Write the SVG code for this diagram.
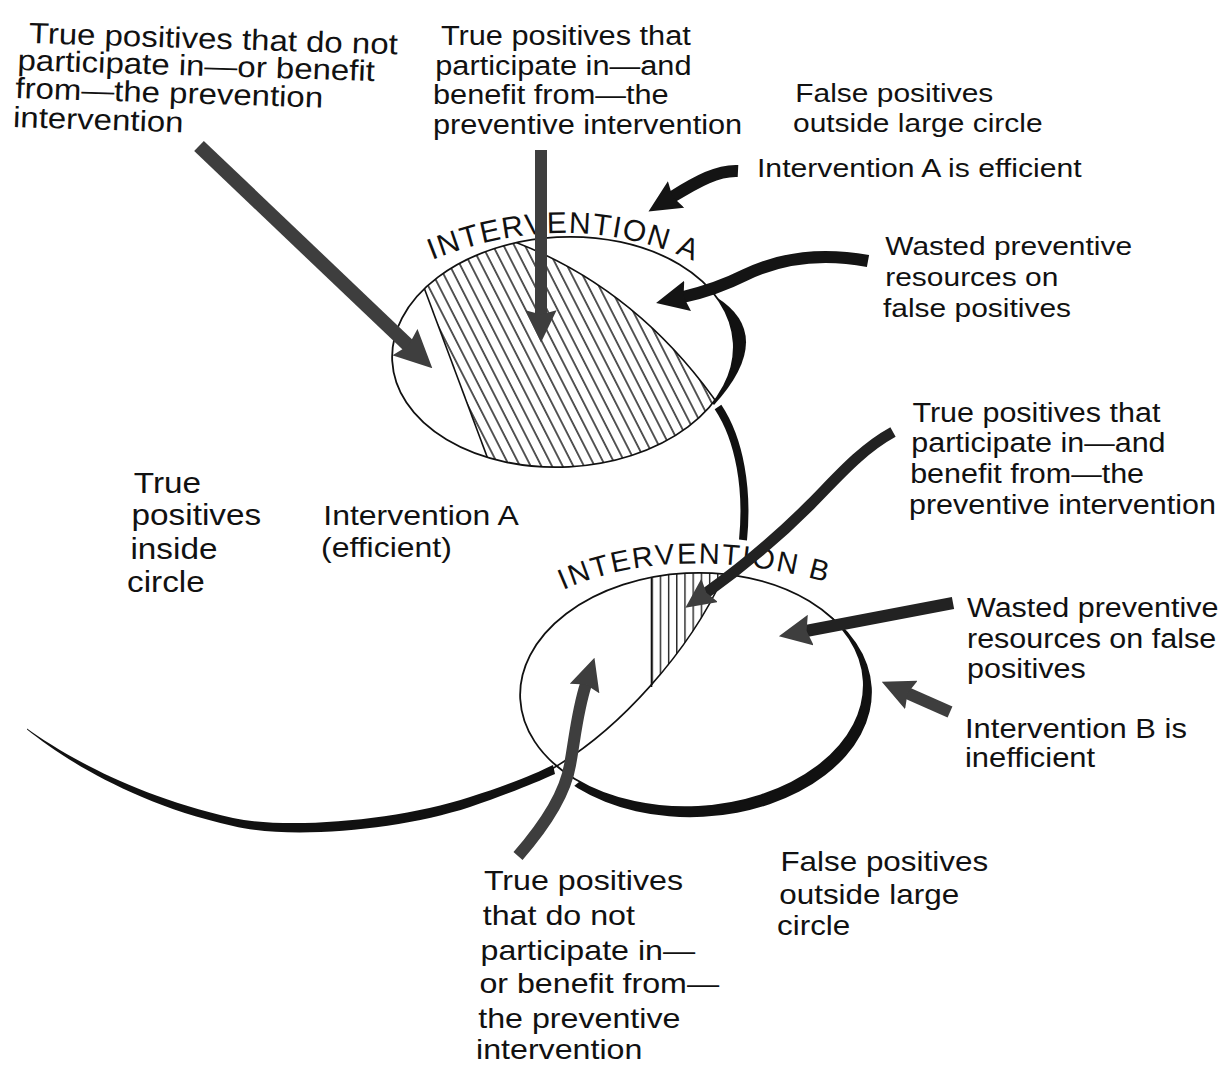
<svg xmlns="http://www.w3.org/2000/svg" width="1225" height="1068" viewBox="0 0 1225 1068">
<defs>
<style>
text{font-family:"Liberation Sans",Arial,Helvetica,sans-serif;fill:#111;}
.arcA{font-size:30px;letter-spacing:1.5px}
.arcB{font-size:29px;letter-spacing:2px}
.fillw{fill:#fff;stroke:none}
.outline{fill:none;stroke:#111;stroke-width:1.8}
.thin{fill:none;stroke:#111;stroke-width:1.6}
.thick{fill:none;stroke:#111;stroke-width:8}
.shadow{fill:#111;stroke:none}
.ag{fill:none;stroke:#3e3e3e;marker-end:url(#hg)}
.ab{fill:none;stroke:#141414;marker-end:url(#hb)}
.am{fill:none;stroke:#222;marker-end:url(#hg)}
</style>
<marker id="hg" viewBox="0 -1.3 2.7 2.6" markerWidth="2.7" markerHeight="2.6" refX="0.4" refY="0" orient="auto" markerUnits="strokeWidth"><path d="M0,-1.3 L2.7,0 L0,1.3 L0.35,0 Z" fill="#3e3e3e"/></marker>
<marker id="hb" viewBox="0 -1.3 2.7 2.6" markerWidth="2.7" markerHeight="2.6" refX="0.4" refY="0" orient="auto" markerUnits="strokeWidth"><path d="M0,-1.3 L2.7,0 L0,1.3 L0.35,0 Z" fill="#141414"/></marker>
<pattern id="hatchA" width="9.5" height="20" patternUnits="userSpaceOnUse" patternTransform="rotate(-27)"><line x1="4.75" y1="-1" x2="4.75" y2="21" stroke="#111" stroke-width="1.4"/></pattern>
<pattern id="hatchB" x="651.5" y="0" width="8.2" height="20" patternUnits="userSpaceOnUse"><line x1="0.7" y1="-1" x2="0.7" y2="21" stroke="#111" stroke-width="1.3"/></pattern>
<clipPath id="clipA"><ellipse cx="563" cy="352" rx="171" ry="115" transform="rotate(-3 563 352)"/></clipPath>
<clipPath id="clipAh"><path d="M413,258 L495,478 L760,478 L722,410 Q640,290 515,242 L510,215 L413,215 Z"/></clipPath>
<clipPath id="clipB"><ellipse cx="692" cy="690" rx="172" ry="117" transform="rotate(-3 692 690)"/></clipPath>
<clipPath id="clipBh"><path d="M651.5,560 L651.5,686 C680.75,651.75 706.5,613.5 723,577 L760,560 Z"/></clipPath>
<clipPath id="clipBs"><path d="M466,874 L1031,414 L1225,414 L1225,1068 L466,1068 Z"/></clipPath>
<path id="arcA" d="M432,260 Q572,204 700,264" fill="none"/>
<path id="arcB" d="M563,590 Q675,540 834,584" fill="none"/>
</defs>
<rect x="0" y="0" width="1225" height="1068" fill="#fff"/>

<g id="intervention-a">
<path class="shadow" d="M716,297 Q777,335 714,405 L700,390 L700,310 Z"/>
<ellipse class="fillw" cx="563" cy="352" rx="171" ry="115" transform="rotate(-3 563 352)"/>
<g clip-path="url(#clipA)">
<g clip-path="url(#clipAh)"><rect x="380" y="220" width="390" height="260" fill="url(#hatchA)"/></g>
<line class="thin" x1="413" y1="258" x2="495" y2="478"/>
<path class="thin" d="M722,410 Q640,290 515,242"/>
</g>
<ellipse class="outline" cx="563" cy="352" rx="171" ry="115" transform="rotate(-3 563 352)"/>
<text class="arcA"><textPath href="#arcA">INTERVENTION A</textPath></text>
</g>

<g id="intervention-b">
<g clip-path="url(#clipBs)"><ellipse class="shadow" cx="697" cy="697" rx="175" ry="120" transform="rotate(-3 697 697)"/></g>
<ellipse class="fillw" cx="692" cy="690" rx="172" ry="117" transform="rotate(-3 692 690)"/>
<g clip-path="url(#clipB)">
<g clip-path="url(#clipBh)"><rect x="640" y="560" width="100" height="140" fill="url(#hatchB)"/></g>
<line class="thin" x1="651.5" y1="570" x2="651.5" y2="687"/>
</g>
<path class="thin" d="M550,770 C620,730 690,650 723,577"/>
<ellipse class="outline" cx="692" cy="690" rx="172" ry="117" transform="rotate(-3 692 690)"/>
<text class="arcB"><textPath href="#arcB">INTERVENTION B</textPath></text>
</g>

<g id="large-circle">
<path class="shadow" d="M27,728.5 C60,752 130,795 233,818 C290,830 400,820 470,797 C505,786 535,774 553,765 L555,774 C535,783 505,795 470,807 C400,830 290,840 233,826 C130,803 60,756 27,729.5 Z"/>
<path class="thick" d="M718,407 C740,440 748,490 743,540"/>
</g>

<g id="label-tp-not-top" transform="matrix(1.13 0 0 1 -1.95 0)" font-size="29.2">
<text x="27" y="43" transform="rotate(2 27 43)">True positives that do not</text>
<text x="17" y="70" transform="rotate(2 17 70)">participate in—or benefit</text>
<text x="15" y="98" transform="rotate(2 15 98)">from—the prevention</text>
<text x="13" y="127" transform="rotate(2 13 127)">intervention</text>
</g>
<g id="label-tp-benefit-top" transform="matrix(1.13 0 0 1 -56.29 0)" font-size="27.2">
<text x="440" y="45">True positives that</text>
<text x="435" y="75">participate in—and</text>
<text x="433" y="104">benefit from—the</text>
<text x="433" y="134">preventive intervention</text>
</g>
<g id="label-fp-top" transform="matrix(1.13 0 0 1 -103.09 0)" font-size="26.5">
<text x="795" y="102">False positives</text>
<text x="793" y="132">outside large circle</text>
</g>
<g id="label-a-efficient" transform="matrix(1.13 0 0 1 -98.41 0)" font-size="26.7">
<text x="757" y="177">Intervention A is efficient</text>
</g>
<g id="label-wasted-a" transform="matrix(1.13 0 0 1 -114.79 0)" font-size="26.5">
<text x="885" y="255">Wasted preventive</text>
<text x="885" y="286">resources on</text>
<text x="883" y="317">false positives</text>
</g>
<g id="label-tp-inside" transform="matrix(1.13 0 0 1 -16.51 0)" font-size="29.5">
<text x="133" y="493">True</text>
<text x="131" y="525">positives</text>
<text x="130" y="559">inside</text>
<text x="127" y="592">circle</text>
</g>
<g id="label-a-eff" transform="matrix(1.13 0 0 1 -41.73 0)" font-size="28.3">
<text x="323" y="525">Intervention A</text>
<text x="321" y="557">(efficient)</text>
</g>
<g id="label-tp-benefit-b" transform="matrix(1.13 0 0 1 -118.17 0)" font-size="27">
<text x="912" y="422">True positives that</text>
<text x="911" y="452">participate in—and</text>
<text x="910" y="483">benefit from—the</text>
<text x="909" y="514">preventive intervention</text>
</g>
<g id="label-wasted-b" transform="matrix(1.13 0 0 1 -125.71 0)" font-size="27">
<text x="967" y="617">Wasted preventive</text>
<text x="967" y="648">resources on false</text>
<text x="967" y="678">positives</text>
</g>
<g id="label-b-inefficient" transform="matrix(1.13 0 0 1 -125.45 0)" font-size="27.4">
<text x="965" y="738">Intervention B is</text>
<text x="965" y="767">inefficient</text>
</g>
<g id="label-fp-bottom" transform="matrix(1.13 0 0 1 -101.01 0)" font-size="27.8">
<text x="780" y="871">False positives</text>
<text x="779" y="904">outside large</text>
<text x="777" y="935">circle</text>
</g>
<g id="label-tp-not-bottom" transform="matrix(1.13 0 0 1 -61.88 0)" font-size="28.5">
<text x="483" y="890">True positives</text>
<text x="482" y="925">that do not</text>
<text x="480" y="960">participate in—</text>
<text x="479" y="993">or benefit from—</text>
<text x="478" y="1028">the preventive</text>
<text x="476" y="1059">intervention</text>
</g>

<g id="connectors">
<path class="ag" stroke-width="14" d="M199,146 L409,346"/>
<path class="ag" stroke-width="12" d="M541,150 L541,315"/>
<path class="ab" stroke-width="12" d="M738,171 C718,170 698,181 672,197"/>
<path class="ab" stroke-width="12" d="M868,261 C820,252 780,258 745,275 C725,285 705,292 683,297"/>
<path class="am" stroke-width="11" d="M893,432 C860,450 835,480 810,505 C780,535 748,563 706,593"/>
<path class="am" stroke-width="12" d="M953,603 L806,631"/>
<path class="ag" stroke-width="12" d="M950,712 L907,693"/>
<path class="ag" stroke-width="12" d="M518,856 C545,825 565,795 570,765 C575,738 577,712 586,684"/>
</g>
</svg>
